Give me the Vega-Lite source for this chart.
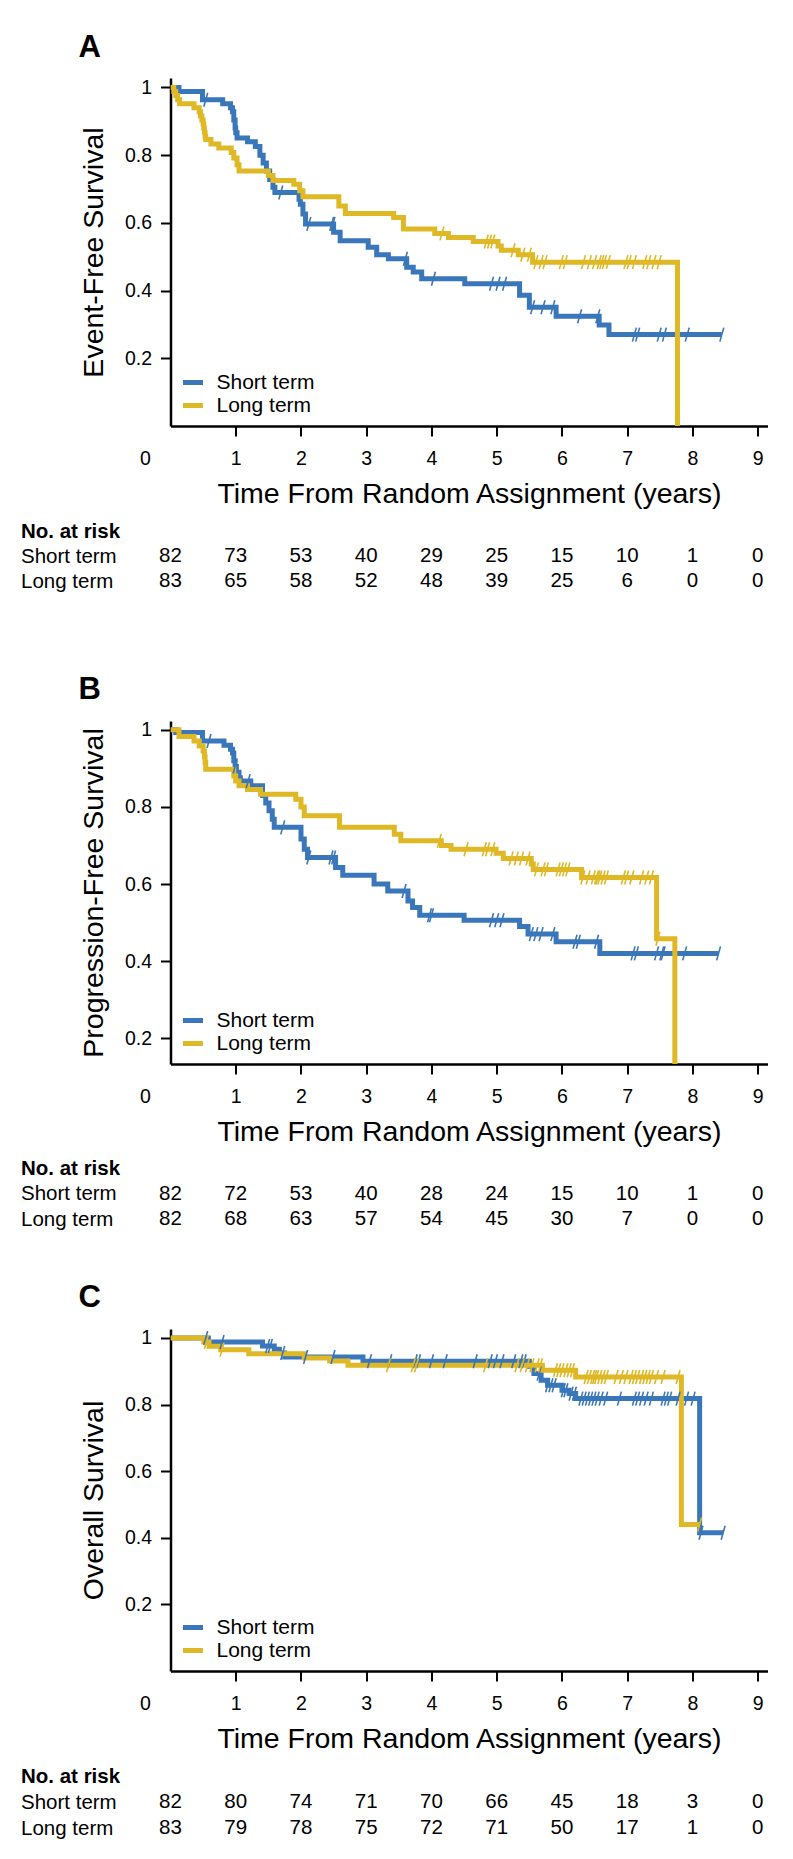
{
"$schema": "https://vega.github.io/schema/vega-lite/v6.json",
"background": "white",
"padding": {"top": 31, "left": 20.5, "right": 20, "bottom": 10},
"bounds": "flush",
"spacing": 0,
"resolve": {"scale": {"color": "independent", "stroke": "independent"}, "legend": {"color": "independent"}},
"config": {
  "view": {"stroke": null},
  "font": "Liberation Sans",
  "axis": {"grid": false, "labelColor": "black", "titleColor": "black", "domainColor": "black", "tickColor": "black", "labelFont": "Liberation Sans", "titleFont": "Liberation Sans", "titleFontWeight": "normal", "labelFlush": false},
  "legend": {"title": null, "orient": "bottom-left", "offset": 10, "symbolType": "stroke", "symbolSize": 400, "symbolStrokeWidth": 5, "labelFontSize": 21, "labelFont": "Liberation Sans", "labelColor": "black", "labelOffset": 11, "rowPadding": 0, "padding": 0},
  "title": {"anchor": "start", "frame": "group", "dx": -92, "offset": 13.5, "fontSize": 31, "fontWeight": "bold", "color": "black", "font": "Liberation Sans"}
},
"datasets": {
  "kmA": [
    {"g":"Short term","t":0,"s":1},{"g":"Short term","t":0.13,"s":0.988},{"g":"Short term","t":0.49,"s":0.964},{"g":"Short term","t":0.80,"s":0.952},{"g":"Short term","t":0.92,"s":0.940},{"g":"Short term","t":0.95,"s":0.928},{"g":"Short term","t":0.97,"s":0.904},{"g":"Short term","t":0.99,"s":0.880},{"g":"Short term","t":1.00,"s":0.866},{"g":"Short term","t":1.02,"s":0.851},{"g":"Short term","t":1.18,"s":0.840},{"g":"Short term","t":1.30,"s":0.826},{"g":"Short term","t":1.37,"s":0.800},{"g":"Short term","t":1.42,"s":0.777},{"g":"Short term","t":1.47,"s":0.753},{"g":"Short term","t":1.52,"s":0.728},{"g":"Short term","t":1.57,"s":0.705},{"g":"Short term","t":1.60,"s":0.690},{"g":"Short term","t":1.97,"s":0.670},{"g":"Short term","t":1.99,"s":0.655},{"g":"Short term","t":2.03,"s":0.626},{"g":"Short term","t":2.07,"s":0.597},{"g":"Short term","t":2.50,"s":0.572},{"g":"Short term","t":2.60,"s":0.547},{"g":"Short term","t":3.03,"s":0.528},{"g":"Short term","t":3.16,"s":0.506},{"g":"Short term","t":3.34,"s":0.494},{"g":"Short term","t":3.62,"s":0.469},{"g":"Short term","t":3.72,"s":0.455},{"g":"Short term","t":3.85,"s":0.435},{"g":"Short term","t":4.51,"s":0.420},{"g":"Short term","t":5.35,"s":0.386},{"g":"Short term","t":5.50,"s":0.351},{"g":"Short term","t":5.91,"s":0.324},{"g":"Short term","t":6.57,"s":0.298},{"g":"Short term","t":6.72,"s":0.270},{"g":"Short term","t":8.45,"s":0.270},
    {"g":"Long term","t":0,"s":1},{"g":"Long term","t":0.05,"s":0.988},{"g":"Long term","t":0.08,"s":0.976},{"g":"Long term","t":0.11,"s":0.964},{"g":"Long term","t":0.14,"s":0.952},{"g":"Long term","t":0.36,"s":0.940},{"g":"Long term","t":0.44,"s":0.928},{"g":"Long term","t":0.46,"s":0.916},{"g":"Long term","t":0.48,"s":0.904},{"g":"Long term","t":0.50,"s":0.892},{"g":"Long term","t":0.51,"s":0.880},{"g":"Long term","t":0.52,"s":0.868},{"g":"Long term","t":0.53,"s":0.855},{"g":"Long term","t":0.54,"s":0.846},{"g":"Long term","t":0.62,"s":0.833},{"g":"Long term","t":0.74,"s":0.821},{"g":"Long term","t":0.93,"s":0.808},{"g":"Long term","t":0.97,"s":0.792},{"g":"Long term","t":1.02,"s":0.772},{"g":"Long term","t":1.05,"s":0.753},{"g":"Long term","t":1.50,"s":0.740},{"g":"Long term","t":1.57,"s":0.725},{"g":"Long term","t":1.89,"s":0.714},{"g":"Long term","t":1.98,"s":0.695},{"g":"Long term","t":2.03,"s":0.677},{"g":"Long term","t":2.58,"s":0.650},{"g":"Long term","t":2.68,"s":0.628},{"g":"Long term","t":3.42,"s":0.616},{"g":"Long term","t":3.57,"s":0.582},{"g":"Long term","t":4.05,"s":0.569},{"g":"Long term","t":4.26,"s":0.557},{"g":"Long term","t":4.64,"s":0.545},{"g":"Long term","t":5.02,"s":0.532},{"g":"Long term","t":5.07,"s":0.519},{"g":"Long term","t":5.33,"s":0.506},{"g":"Long term","t":5.55,"s":0.484},{"g":"Long term","t":7.77,"s":0}
  ],
  "cenA": [
    {"g":"Short term","t":0.54,"s":0.964},{"g":"Short term","t":1.69,"s":0.690},{"g":"Short term","t":2.12,"s":0.597},{"g":"Short term","t":2.47,"s":0.597},{"g":"Short term","t":2.49,"s":0.597},{"g":"Short term","t":3.60,"s":0.494},{"g":"Short term","t":4.03,"s":0.435},{"g":"Short term","t":4.92,"s":0.420},{"g":"Short term","t":5.02,"s":0.420},{"g":"Short term","t":5.12,"s":0.420},{"g":"Short term","t":5.55,"s":0.351},{"g":"Short term","t":5.71,"s":0.351},{"g":"Short term","t":5.86,"s":0.351},{"g":"Short term","t":6.27,"s":0.324},{"g":"Short term","t":6.55,"s":0.324},{"g":"Short term","t":7.11,"s":0.270},{"g":"Short term","t":7.16,"s":0.270},{"g":"Short term","t":7.49,"s":0.270},{"g":"Short term","t":7.57,"s":0.270},{"g":"Short term","t":7.92,"s":0.270},{"g":"Short term","t":8.45,"s":0.270},
    {"g":"Long term","t":4.16,"s":0.569},{"g":"Long term","t":4.84,"s":0.545},{"g":"Long term","t":4.89,"s":0.545},{"g":"Long term","t":4.94,"s":0.545},{"g":"Long term","t":5.25,"s":0.519},{"g":"Long term","t":5.40,"s":0.506},{"g":"Long term","t":5.50,"s":0.506},{"g":"Long term","t":5.60,"s":0.484},{"g":"Long term","t":5.68,"s":0.484},{"g":"Long term","t":5.74,"s":0.484},{"g":"Long term","t":5.99,"s":0.484},{"g":"Long term","t":6.05,"s":0.484},{"g":"Long term","t":6.33,"s":0.484},{"g":"Long term","t":6.42,"s":0.484},{"g":"Long term","t":6.50,"s":0.484},{"g":"Long term","t":6.57,"s":0.484},{"g":"Long term","t":6.61,"s":0.484},{"g":"Long term","t":6.65,"s":0.484},{"g":"Long term","t":6.71,"s":0.484},{"g":"Long term","t":6.98,"s":0.484},{"g":"Long term","t":7.03,"s":0.484},{"g":"Long term","t":7.11,"s":0.484},{"g":"Long term","t":7.27,"s":0.484},{"g":"Long term","t":7.33,"s":0.484},{"g":"Long term","t":7.41,"s":0.484},{"g":"Long term","t":7.49,"s":0.484}
  ],
  "riskA": [
    {"row":"Short term","t":0,"n":82},{"row":"Short term","t":1,"n":73},{"row":"Short term","t":2,"n":53},{"row":"Short term","t":3,"n":40},{"row":"Short term","t":4,"n":29},{"row":"Short term","t":5,"n":25},{"row":"Short term","t":6,"n":15},{"row":"Short term","t":7,"n":10},{"row":"Short term","t":8,"n":1},{"row":"Short term","t":9,"n":0},
    {"row":"Long term","t":0,"n":83},{"row":"Long term","t":1,"n":65},{"row":"Long term","t":2,"n":58},{"row":"Long term","t":3,"n":52},{"row":"Long term","t":4,"n":48},{"row":"Long term","t":5,"n":39},{"row":"Long term","t":6,"n":25},{"row":"Long term","t":7,"n":6},{"row":"Long term","t":8,"n":0},{"row":"Long term","t":9,"n":0}
  ],
  "kmB": [
    {"g":"Short term","t":0,"s":1},{"g":"Short term","t":0.08,"s":0.993},{"g":"Short term","t":0.49,"s":0.971},{"g":"Short term","t":0.82,"s":0.960},{"g":"Short term","t":0.92,"s":0.950},{"g":"Short term","t":0.95,"s":0.940},{"g":"Short term","t":0.97,"s":0.920},{"g":"Short term","t":0.99,"s":0.905},{"g":"Short term","t":1.01,"s":0.890},{"g":"Short term","t":1.05,"s":0.876},{"g":"Short term","t":1.07,"s":0.867},{"g":"Short term","t":1.23,"s":0.855},{"g":"Short term","t":1.41,"s":0.830},{"g":"Short term","t":1.46,"s":0.810},{"g":"Short term","t":1.51,"s":0.790},{"g":"Short term","t":1.56,"s":0.768},{"g":"Short term","t":1.59,"s":0.747},{"g":"Short term","t":2.00,"s":0.717},{"g":"Short term","t":2.05,"s":0.690},{"g":"Short term","t":2.10,"s":0.669},{"g":"Short term","t":2.53,"s":0.643},{"g":"Short term","t":2.64,"s":0.623},{"g":"Short term","t":3.12,"s":0.600},{"g":"Short term","t":3.33,"s":0.582},{"g":"Short term","t":3.64,"s":0.556},{"g":"Short term","t":3.71,"s":0.539},{"g":"Short term","t":3.82,"s":0.519},{"g":"Short term","t":4.50,"s":0.506},{"g":"Short term","t":5.35,"s":0.490},{"g":"Short term","t":5.48,"s":0.470},{"g":"Short term","t":5.91,"s":0.450},{"g":"Short term","t":6.58,"s":0.420},{"g":"Short term","t":8.40,"s":0.420},
    {"g":"Long term","t":0,"s":1},{"g":"Long term","t":0.13,"s":0.983},{"g":"Long term","t":0.36,"s":0.971},{"g":"Long term","t":0.44,"s":0.958},{"g":"Long term","t":0.50,"s":0.945},{"g":"Long term","t":0.52,"s":0.930},{"g":"Long term","t":0.53,"s":0.915},{"g":"Long term","t":0.54,"s":0.898},{"g":"Long term","t":0.97,"s":0.880},{"g":"Long term","t":1.00,"s":0.867},{"g":"Long term","t":1.05,"s":0.855},{"g":"Long term","t":1.18,"s":0.845},{"g":"Long term","t":1.38,"s":0.833},{"g":"Long term","t":1.92,"s":0.820},{"g":"Long term","t":2.00,"s":0.800},{"g":"Long term","t":2.05,"s":0.777},{"g":"Long term","t":2.59,"s":0.747},{"g":"Long term","t":3.43,"s":0.729},{"g":"Long term","t":3.53,"s":0.712},{"g":"Long term","t":4.15,"s":0.700},{"g":"Long term","t":4.30,"s":0.690},{"g":"Long term","t":4.99,"s":0.680},{"g":"Long term","t":5.10,"s":0.666},{"g":"Long term","t":5.53,"s":0.652},{"g":"Long term","t":5.56,"s":0.638},{"g":"Long term","t":6.30,"s":0.617},{"g":"Long term","t":7.45,"s":0.458},{"g":"Long term","t":7.73,"s":0}
  ],
  "cenB": [
    {"g":"Short term","t":0.59,"s":0.971},{"g":"Short term","t":0.99,"s":0.905},{"g":"Short term","t":1.19,"s":0.867},{"g":"Short term","t":1.72,"s":0.747},{"g":"Short term","t":2.12,"s":0.669},{"g":"Short term","t":2.46,"s":0.669},{"g":"Short term","t":2.50,"s":0.669},{"g":"Short term","t":3.58,"s":0.582},{"g":"Short term","t":3.97,"s":0.519},{"g":"Short term","t":4.00,"s":0.519},{"g":"Short term","t":4.92,"s":0.506},{"g":"Short term","t":5.00,"s":0.506},{"g":"Short term","t":5.08,"s":0.506},{"g":"Short term","t":5.53,"s":0.470},{"g":"Short term","t":5.60,"s":0.470},{"g":"Short term","t":5.68,"s":0.470},{"g":"Short term","t":5.86,"s":0.470},{"g":"Short term","t":6.20,"s":0.450},{"g":"Short term","t":6.25,"s":0.450},{"g":"Short term","t":6.53,"s":0.450},{"g":"Short term","t":7.09,"s":0.420},{"g":"Short term","t":7.14,"s":0.420},{"g":"Short term","t":7.45,"s":0.420},{"g":"Short term","t":7.53,"s":0.420},{"g":"Short term","t":7.55,"s":0.420},{"g":"Short term","t":7.88,"s":0.420},{"g":"Short term","t":8.40,"s":0.420},
    {"g":"Long term","t":4.12,"s":0.712},{"g":"Long term","t":4.53,"s":0.690},{"g":"Long term","t":4.81,"s":0.690},{"g":"Long term","t":4.86,"s":0.690},{"g":"Long term","t":4.94,"s":0.690},{"g":"Long term","t":5.22,"s":0.666},{"g":"Long term","t":5.30,"s":0.666},{"g":"Long term","t":5.38,"s":0.666},{"g":"Long term","t":5.48,"s":0.666},{"g":"Long term","t":5.61,"s":0.638},{"g":"Long term","t":5.71,"s":0.638},{"g":"Long term","t":5.76,"s":0.638},{"g":"Long term","t":5.94,"s":0.638},{"g":"Long term","t":5.99,"s":0.638},{"g":"Long term","t":6.04,"s":0.638},{"g":"Long term","t":6.09,"s":0.638},{"g":"Long term","t":6.32,"s":0.617},{"g":"Long term","t":6.40,"s":0.617},{"g":"Long term","t":6.48,"s":0.617},{"g":"Long term","t":6.53,"s":0.617},{"g":"Long term","t":6.55,"s":0.617},{"g":"Long term","t":6.58,"s":0.617},{"g":"Long term","t":6.63,"s":0.617},{"g":"Long term","t":6.68,"s":0.617},{"g":"Long term","t":6.94,"s":0.617},{"g":"Long term","t":6.99,"s":0.617},{"g":"Long term","t":7.07,"s":0.617},{"g":"Long term","t":7.22,"s":0.617},{"g":"Long term","t":7.30,"s":0.617},{"g":"Long term","t":7.37,"s":0.617},{"g":"Long term","t":7.47,"s":0.458}
  ],
  "riskB": [
    {"row":"Short term","t":0,"n":82},{"row":"Short term","t":1,"n":72},{"row":"Short term","t":2,"n":53},{"row":"Short term","t":3,"n":40},{"row":"Short term","t":4,"n":28},{"row":"Short term","t":5,"n":24},{"row":"Short term","t":6,"n":15},{"row":"Short term","t":7,"n":10},{"row":"Short term","t":8,"n":1},{"row":"Short term","t":9,"n":0},
    {"row":"Long term","t":0,"n":82},{"row":"Long term","t":1,"n":68},{"row":"Long term","t":2,"n":63},{"row":"Long term","t":3,"n":57},{"row":"Long term","t":4,"n":54},{"row":"Long term","t":5,"n":45},{"row":"Long term","t":6,"n":30},{"row":"Long term","t":7,"n":7},{"row":"Long term","t":8,"n":0},{"row":"Long term","t":9,"n":0}
  ],
  "kmC": [
    {"g":"Short term","t":0,"s":1},{"g":"Short term","t":0.58,"s":0.988},{"g":"Short term","t":1.41,"s":0.976},{"g":"Short term","t":1.59,"s":0.966},{"g":"Short term","t":1.67,"s":0.955},{"g":"Short term","t":1.75,"s":0.943},{"g":"Short term","t":2.95,"s":0.930},{"g":"Short term","t":5.50,"s":0.915},{"g":"Short term","t":5.57,"s":0.893},{"g":"Short term","t":5.68,"s":0.873},{"g":"Short term","t":5.78,"s":0.858},{"g":"Short term","t":6.00,"s":0.843},{"g":"Short term","t":6.11,"s":0.833},{"g":"Short term","t":6.21,"s":0.818},{"g":"Short term","t":8.11,"s":0.415},{"g":"Short term","t":8.47,"s":0.415},
    {"g":"Long term","t":0,"s":1},{"g":"Long term","t":0.51,"s":0.988},{"g":"Long term","t":0.59,"s":0.975},{"g":"Long term","t":0.77,"s":0.965},{"g":"Long term","t":1.20,"s":0.953},{"g":"Long term","t":2.05,"s":0.940},{"g":"Long term","t":2.44,"s":0.931},{"g":"Long term","t":2.72,"s":0.918},{"g":"Long term","t":5.70,"s":0.903},{"g":"Long term","t":6.21,"s":0.883},{"g":"Long term","t":7.83,"s":0.440},{"g":"Long term","t":8.11,"s":0.440}
  ],
  "cenC": [
    {"g":"Short term","t":0.54,"s":1},{"g":"Short term","t":0.79,"s":0.988},{"g":"Short term","t":1.49,"s":0.976},{"g":"Short term","t":1.53,"s":0.976},{"g":"Short term","t":1.72,"s":0.955},{"g":"Short term","t":2.07,"s":0.943},{"g":"Short term","t":2.49,"s":0.943},{"g":"Short term","t":3.05,"s":0.930},{"g":"Short term","t":3.36,"s":0.930},{"g":"Short term","t":3.75,"s":0.930},{"g":"Short term","t":3.80,"s":0.930},{"g":"Short term","t":4.00,"s":0.930},{"g":"Short term","t":4.21,"s":0.930},{"g":"Short term","t":4.67,"s":0.930},{"g":"Short term","t":4.90,"s":0.930},{"g":"Short term","t":4.98,"s":0.930},{"g":"Short term","t":5.08,"s":0.930},{"g":"Short term","t":5.26,"s":0.930},{"g":"Short term","t":5.37,"s":0.930},{"g":"Short term","t":5.42,"s":0.930},{"g":"Short term","t":5.65,"s":0.893},{"g":"Short term","t":5.78,"s":0.858},{"g":"Short term","t":5.83,"s":0.858},{"g":"Short term","t":5.88,"s":0.858},{"g":"Short term","t":6.02,"s":0.843},{"g":"Short term","t":6.06,"s":0.843},{"g":"Short term","t":6.14,"s":0.833},{"g":"Short term","t":6.19,"s":0.833},{"g":"Short term","t":6.29,"s":0.818},{"g":"Short term","t":6.34,"s":0.818},{"g":"Short term","t":6.39,"s":0.818},{"g":"Short term","t":6.44,"s":0.818},{"g":"Short term","t":6.49,"s":0.818},{"g":"Short term","t":6.54,"s":0.818},{"g":"Short term","t":6.60,"s":0.818},{"g":"Short term","t":6.67,"s":0.818},{"g":"Short term","t":6.88,"s":0.818},{"g":"Short term","t":7.11,"s":0.818},{"g":"Short term","t":7.16,"s":0.818},{"g":"Short term","t":7.22,"s":0.818},{"g":"Short term","t":7.29,"s":0.818},{"g":"Short term","t":7.37,"s":0.818},{"g":"Short term","t":7.55,"s":0.818},{"g":"Short term","t":7.60,"s":0.818},{"g":"Short term","t":7.65,"s":0.818},{"g":"Short term","t":7.78,"s":0.818},{"g":"Short term","t":7.91,"s":0.818},{"g":"Short term","t":8.01,"s":0.818},{"g":"Short term","t":8.13,"s":0.415},{"g":"Short term","t":8.47,"s":0.415},
    {"g":"Long term","t":0.55,"s":0.988},{"g":"Long term","t":0.79,"s":0.965},{"g":"Long term","t":3.34,"s":0.918},{"g":"Long term","t":3.72,"s":0.918},{"g":"Long term","t":3.77,"s":0.918},{"g":"Long term","t":4.83,"s":0.918},{"g":"Long term","t":5.31,"s":0.918},{"g":"Long term","t":5.39,"s":0.918},{"g":"Long term","t":5.47,"s":0.918},{"g":"Long term","t":5.54,"s":0.918},{"g":"Long term","t":5.62,"s":0.918},{"g":"Long term","t":5.67,"s":0.918},{"g":"Long term","t":5.90,"s":0.903},{"g":"Long term","t":5.95,"s":0.903},{"g":"Long term","t":6.00,"s":0.903},{"g":"Long term","t":6.06,"s":0.903},{"g":"Long term","t":6.11,"s":0.903},{"g":"Long term","t":6.16,"s":0.903},{"g":"Long term","t":6.37,"s":0.883},{"g":"Long term","t":6.42,"s":0.883},{"g":"Long term","t":6.47,"s":0.883},{"g":"Long term","t":6.50,"s":0.883},{"g":"Long term","t":6.53,"s":0.883},{"g":"Long term","t":6.58,"s":0.883},{"g":"Long term","t":6.63,"s":0.883},{"g":"Long term","t":6.68,"s":0.883},{"g":"Long term","t":6.83,"s":0.883},{"g":"Long term","t":6.91,"s":0.883},{"g":"Long term","t":6.98,"s":0.883},{"g":"Long term","t":7.06,"s":0.883},{"g":"Long term","t":7.11,"s":0.883},{"g":"Long term","t":7.16,"s":0.883},{"g":"Long term","t":7.22,"s":0.883},{"g":"Long term","t":7.27,"s":0.883},{"g":"Long term","t":7.32,"s":0.883},{"g":"Long term","t":7.37,"s":0.883},{"g":"Long term","t":7.45,"s":0.883},{"g":"Long term","t":7.55,"s":0.883},{"g":"Long term","t":7.78,"s":0.883},{"g":"Long term","t":8.11,"s":0.440}
  ],
  "riskC": [
    {"row":"Short term","t":0,"n":82},{"row":"Short term","t":1,"n":80},{"row":"Short term","t":2,"n":74},{"row":"Short term","t":3,"n":71},{"row":"Short term","t":4,"n":70},{"row":"Short term","t":5,"n":66},{"row":"Short term","t":6,"n":45},{"row":"Short term","t":7,"n":18},{"row":"Short term","t":8,"n":3},{"row":"Short term","t":9,"n":0},
    {"row":"Long term","t":0,"n":83},{"row":"Long term","t":1,"n":79},{"row":"Long term","t":2,"n":78},{"row":"Long term","t":3,"n":75},{"row":"Long term","t":4,"n":72},{"row":"Long term","t":5,"n":71},{"row":"Long term","t":6,"n":50},{"row":"Long term","t":7,"n":17},{"row":"Long term","t":8,"n":1},{"row":"Long term","t":9,"n":0}
  ]
},
"vconcat": [
  {
    "width": 597, "height": 348,
    "title": {"text": "A"},
    "layer": [
      {"data": {"name": "kmA"},
       "mark": {"type": "line", "interpolate": "step-after", "strokeWidth": 5, "clip": true},
       "encoding": {
         "x": {"field": "t", "type": "quantitative", "scale": {"domain": [0, 9.15], "nice": false, "zero": false},
               "axis": {"title": "Time From Random Assignment (years)", "values": [0,1,2,3,4,5,6,7,8,9], "format": "d", "labelFontSize": 19.5, "labelPadding": 13.5, "tickSize": 10, "tickWidth": 2, "domainWidth": 2.5, "labelOverlap": false, "titleFontSize": 28.5, "titlePadding": 11.5,
                        "tickOpacity": {"condition": {"test": "datum.value === 0", "value": 0}, "value": 1},
                        "labelOffset": {"condition": {"test": "datum.value === 0", "value": -25.5}, "value": 0}}},
         "y": {"field": "s", "type": "quantitative", "scale": {"domain": [0, 1.028], "nice": false, "zero": false},
               "axis": {"title": "Event-Free Survival", "values": [0.2,0.4,0.6,0.8,1], "format": "~g", "labelFontSize": 19.5, "labelPadding": 9, "tickSize": 10, "tickWidth": 2, "domainWidth": 2.5, "titleFontSize": 28.5, "titlePadding": 16}},
         "color": {"field": "g", "type": "nominal", "scale": {"domain": ["Short term", "Long term"], "range": ["#3a76ba", "#dfb825"]}, "legend": {"orient": "bottom-left"}}
       }},
      {"data": {"name": "cenA"},
       "mark": {"type": "point", "shape": "M-0.28,1L0.28,-1", "filled": false, "strokeWidth": 1.6, "size": 196, "opacity": 1},
       "encoding": {
         "x": {"field": "t", "type": "quantitative"},
         "y": {"field": "s", "type": "quantitative"},
         "stroke": {"field": "g", "type": "nominal", "scale": {"domain": ["Short term", "Long term"], "range": ["#3a76ba", "#dfb825"]}, "legend": null}
       }}
    ]
  },
  {
    "width": 597, "height": 295,
    "data": {"name": "riskA"},
    "mark": {"type": "text", "fontSize": 20.5, "font": "Liberation Sans", "color": "black", "baseline": "middle"},
    "encoding": {
      "x": {"field": "t", "type": "quantitative", "scale": {"domain": [0, 9.15], "nice": false, "zero": false}, "axis": null},
      "y": {"field": "row", "type": "ordinal", "scale": {"type": "point", "domain": ["No. at risk", "Short term", "Long term"], "range": [105, 155], "padding": 0},
            "axis": {"title": null, "domain": false, "ticks": false, "labelAlign": "left", "labelPadding": 150, "labelFontSize": 20.5, "labelBaseline": "middle",
                     "labelFontWeight": {"condition": {"test": "datum.value === 'No. at risk'", "value": "bold"}, "value": "normal"}}},
      "text": {"field": "n", "type": "quantitative"}
    }
  },
  {
    "width": 597, "height": 343,
    "title": {"text": "B"},
    "layer": [
      {"data": {"name": "kmB"},
       "mark": {"type": "line", "interpolate": "step-after", "strokeWidth": 5, "clip": true},
       "encoding": {
         "x": {"field": "t", "type": "quantitative", "scale": {"domain": [0, 9.15], "nice": false, "zero": false},
               "axis": {"title": "Time From Random Assignment (years)", "values": [0,1,2,3,4,5,6,7,8,9], "format": "d", "labelFontSize": 19.5, "labelPadding": 13.5, "tickSize": 10, "tickWidth": 2, "domainWidth": 2.5, "labelOverlap": false, "titleFontSize": 28.5, "titlePadding": 11.5,
                        "tickOpacity": {"condition": {"test": "datum.value === 0", "value": 0}, "value": 1},
                        "labelOffset": {"condition": {"test": "datum.value === 0", "value": -25.5}, "value": 0}}},
         "y": {"field": "s", "type": "quantitative", "scale": {"domain": [0.133, 1.023], "nice": false, "zero": false},
               "axis": {"title": "Progression-Free Survival", "values": [0.2,0.4,0.6,0.8,1], "format": "~g", "labelFontSize": 19.5, "labelPadding": 9, "tickSize": 10, "tickWidth": 2, "domainWidth": 2.5, "titleFontSize": 28.5, "titlePadding": 16}},
         "color": {"field": "g", "type": "nominal", "scale": {"domain": ["Short term", "Long term"], "range": ["#3a76ba", "#dfb825"]}, "legend": {"orient": "bottom-left"}}
       }},
      {"data": {"name": "cenB"},
       "mark": {"type": "point", "shape": "M-0.28,1L0.28,-1", "filled": false, "strokeWidth": 1.6, "size": 196, "opacity": 1},
       "encoding": {
         "x": {"field": "t", "type": "quantitative"},
         "y": {"field": "s", "type": "quantitative"},
         "stroke": {"field": "g", "type": "nominal", "scale": {"domain": ["Short term", "Long term"], "range": ["#3a76ba", "#dfb825"]}, "legend": null}
       }}
    ]
  },
  {
    "width": 597, "height": 265,
    "data": {"name": "riskB"},
    "mark": {"type": "text", "fontSize": 20.5, "font": "Liberation Sans", "color": "black", "baseline": "middle"},
    "encoding": {
      "x": {"field": "t", "type": "quantitative", "scale": {"domain": [0, 9.15], "nice": false, "zero": false}, "axis": null},
      "y": {"field": "row", "type": "ordinal", "scale": {"type": "point", "domain": ["No. at risk", "Short term", "Long term"], "range": [104, 155], "padding": 0},
            "axis": {"title": null, "domain": false, "ticks": false, "labelAlign": "left", "labelPadding": 150, "labelFontSize": 20.5, "labelBaseline": "middle",
                     "labelFontWeight": {"condition": {"test": "datum.value === 'No. at risk'", "value": "bold"}, "value": "normal"}}},
      "text": {"field": "n", "type": "quantitative"}
    }
  },
  {
    "width": 597, "height": 342,
    "title": {"text": "C"},
    "layer": [
      {"data": {"name": "kmC"},
       "mark": {"type": "line", "interpolate": "step-after", "strokeWidth": 5, "clip": true},
       "encoding": {
         "x": {"field": "t", "type": "quantitative", "scale": {"domain": [0, 9.15], "nice": false, "zero": false},
               "axis": {"title": "Time From Random Assignment (years)", "values": [0,1,2,3,4,5,6,7,8,9], "format": "d", "labelFontSize": 19.5, "labelPadding": 13.5, "tickSize": 10, "tickWidth": 2, "domainWidth": 2.5, "labelOverlap": false, "titleFontSize": 28.5, "titlePadding": 11.5,
                        "tickOpacity": {"condition": {"test": "datum.value === 0", "value": 0}, "value": 1},
                        "labelOffset": {"condition": {"test": "datum.value === 0", "value": -25.5}, "value": 0}}},
         "y": {"field": "s", "type": "quantitative", "scale": {"domain": [0, 1.027], "nice": false, "zero": false},
               "axis": {"title": "Overall Survival", "values": [0.2,0.4,0.6,0.8,1], "format": "~g", "labelFontSize": 19.5, "labelPadding": 9, "tickSize": 10, "tickWidth": 2, "domainWidth": 2.5, "titleFontSize": 28.5, "titlePadding": 16}},
         "color": {"field": "g", "type": "nominal", "scale": {"domain": ["Short term", "Long term"], "range": ["#3a76ba", "#dfb825"]}, "legend": {"orient": "bottom-left"}}
       }},
      {"data": {"name": "cenC"},
       "mark": {"type": "point", "shape": "M-0.28,1L0.28,-1", "filled": false, "strokeWidth": 1.6, "size": 196, "opacity": 1},
       "encoding": {
         "x": {"field": "t", "type": "quantitative"},
         "y": {"field": "s", "type": "quantitative"},
         "stroke": {"field": "g", "type": "nominal", "scale": {"domain": ["Short term", "Long term"], "range": ["#3a76ba", "#dfb825"]}, "legend": null}
       }}
    ]
  },
  {
    "width": 597, "height": 175,
    "data": {"name": "riskC"},
    "mark": {"type": "text", "fontSize": 20.5, "font": "Liberation Sans", "color": "black", "baseline": "middle"},
    "encoding": {
      "x": {"field": "t", "type": "quantitative", "scale": {"domain": [0, 9.15], "nice": false, "zero": false}, "axis": null},
      "y": {"field": "row", "type": "ordinal", "scale": {"type": "point", "domain": ["No. at risk", "Short term", "Long term"], "range": [105, 157], "padding": 0},
            "axis": {"title": null, "domain": false, "ticks": false, "labelAlign": "left", "labelPadding": 150, "labelFontSize": 20.5, "labelBaseline": "middle",
                     "labelFontWeight": {"condition": {"test": "datum.value === 'No. at risk'", "value": "bold"}, "value": "normal"}}},
      "text": {"field": "n", "type": "quantitative"}
    }
  }
]
}
